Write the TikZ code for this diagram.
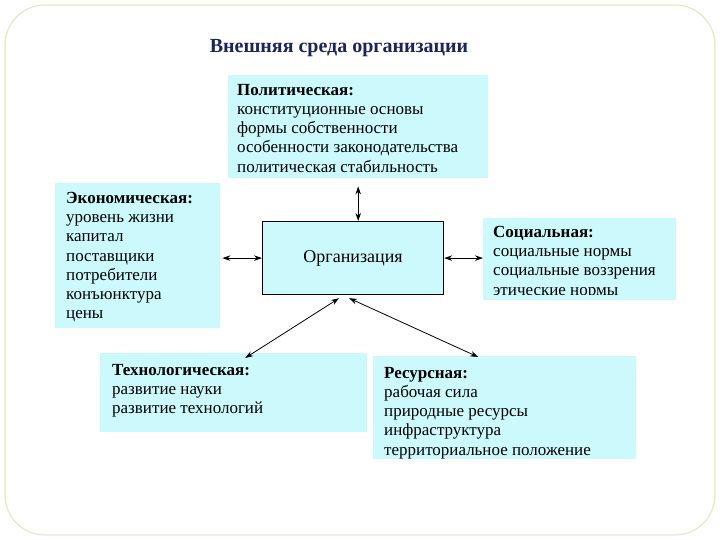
\documentclass[tikz,border=0pt]{standalone}
\usepackage{fontspec}
\setmainfont{Liberation Serif}
\usepackage{xcolor}
\definecolor{envFill}{HTML}{CCFAFC}
\definecolor{titleNavy}{HTML}{1C2559}
\definecolor{frameBeige}{HTML}{E6E6C8}
\usetikzlibrary{arrows.meta}
\tikzset{
  envbox/.style={rectangle, draw=none, fill=envFill, anchor=north west, inner sep=0pt},
  envtext/.style={anchor=north west, align=left, inner sep=0pt, font=\fontsize{17}{19.2}\selectfont},
  link/.style={{Stealth[length=8pt,width=5.5pt]}-{Stealth[length=8pt,width=5.5pt]}, line width=0.8pt},
}

\begin{document}
\begin{tikzpicture}[x=1pt,y=-1pt]
  \useasboundingbox (0,0) rectangle (720,540);
  \draw[frameBeige, line width=1.2pt, rounded corners=40pt] (5,5) rectangle (715,535);
  \node[font=\bfseries\fontsize{20}{22}\selectfont, text=titleNavy] (title) at (339,48) {Внешняя среда организации};

  % environment boxes
  \node[envbox, minimum width=260pt, minimum height=103pt] (pol) at (228,75) {};
  \node[envtext] (polText) at (237,84) {\textbf{Политическая:}\\конституционные основы\\формы собственности\\особенности законодательства\\политическая стабильность};

  \node[envbox, minimum width=165pt, minimum height=145pt] (eco) at (55,183) {};
  \node[envtext] (ecoText) at (66,192) {\textbf{Экономическая:}\\уровень жизни\\капитал\\поставщики\\потребители\\конъюнктура\\цены};

  \node[envbox, minimum width=193pt, minimum height=82pt] (soc) at (483,218) {};
  \begin{scope}
    \clip (soc.north west) rectangle ([yshift=6pt]soc.south east);
    \node[envtext] (socText) at (493,226) {\textbf{Социальная:}\\социальные нормы\\социальные воззрения\\этические нормы};
  \end{scope}

  \node[envbox, minimum width=267pt, minimum height=79pt] (tech) at (100,353) {};
  \node[envtext] (techText) at (112,364) {\textbf{Технологическая:}\\развитие науки\\развитие технологий};

  \node[envbox, minimum width=263pt, minimum height=103pt] (res) at (373,356) {};
  \node[envtext] (resText) at (384,367) {\textbf{Ресурсная:}\\рабочая сила\\природные ресурсы\\инфраструктура\\территориальное положение};

  % organization
  \node[rectangle, draw=black, line width=1.2pt, fill=envFill, anchor=north west, minimum width=181pt, minimum height=73pt, font=\fontsize{18}{20}\selectfont] (org) at (262,221) {Организация};

  % links
  \draw[link] ([yshift=-8pt]pol.south) -- (pol.south |- org.north);
  \draw[link, shorten <=2pt] (eco.east |- org.west) -- (org.west);
  \draw[link] (org.east) -- (soc.west |- org.east);
  \draw[link] ([xshift=-14pt,yshift=-3pt]org.south) -- ([xshift=11.5pt,yshift=-5pt]tech.north);
  \draw[link] ([xshift=-4pt,yshift=-3pt]org.south) -- ([xshift=-26.5pt,yshift=-1pt]res.north);
\end{tikzpicture}
\end{document}
